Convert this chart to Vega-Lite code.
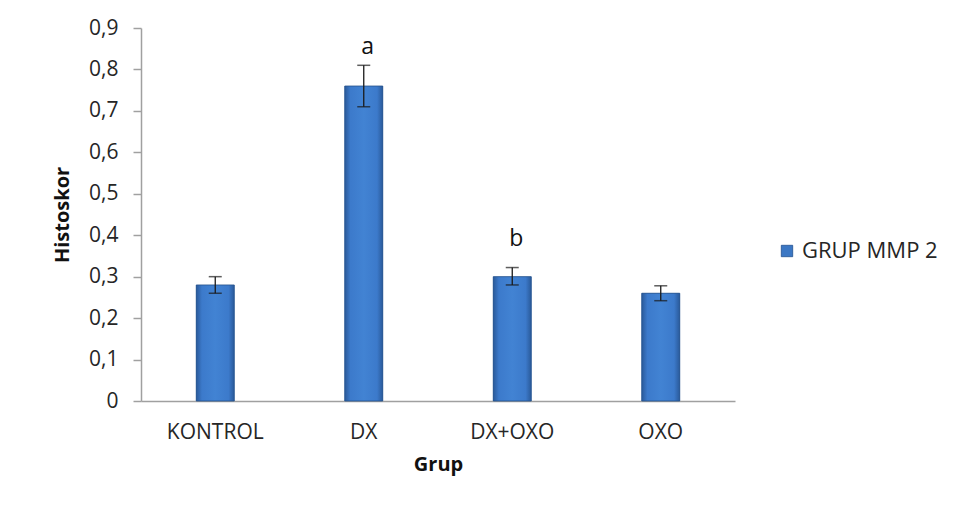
{
  "$schema": "https://vega.github.io/schema/vega-lite/v6.json",
  "width": 594,
  "height": 373,
  "autosize": {"type": "none"},
  "padding": {"left": 141, "top": 28, "right": 230, "bottom": 107},
  "background": "white",
  "data": {
    "values": [
      {"grup": "KONTROL", "series": "GRUP MMP 2", "mean": 0.28, "low": 0.26, "high": 0.30, "sig": ""},
      {"grup": "DX", "series": "GRUP MMP 2", "mean": 0.76, "low": 0.71, "high": 0.81, "sig": "a"},
      {"grup": "DX+OXO", "series": "GRUP MMP 2", "mean": 0.30, "low": 0.28, "high": 0.322, "sig": "b"},
      {"grup": "OXO", "series": "GRUP MMP 2", "mean": 0.26, "low": 0.242, "high": 0.278, "sig": ""}
    ]
  },
  "encoding": {
    "x": {
      "field": "grup",
      "type": "nominal",
      "sort": null,
      "scale": {"paddingInner": 0, "paddingOuter": 0},
      "axis": {
        "title": "Grup",
        "labelAngle": 0,
        "ticks": false,
        "labelPadding": 20,
        "titlePadding": 12,
        "domainColor": "#a0a0a0",
        "domainWidth": 1.5
      }
    }
  },
  "layer": [
    {
      "mark": {"type": "bar", "size": 38},
      "encoding": {
        "y": {
          "field": "mean",
          "type": "quantitative",
          "scale": {"domain": [0, 0.9]},
          "axis": {
            "title": "Histoskor",
            "values": [0, 0.1, 0.2, 0.3, 0.4, 0.5, 0.6, 0.7, 0.8, 0.9],
            "labelExpr": "datum.value == 0 ? '0' : replace(format(datum.value, '.1f'), '.', ',')",
            "grid": false,
            "tickSize": 8,
            "tickColor": "#a0a0a0",
            "tickWidth": 1.5,
            "labelPadding": 15,
            "titlePadding": 16,
            "domainColor": "#a0a0a0",
            "domainWidth": 1.5
          }
        },
        "color": {
          "field": "series",
          "type": "nominal",
          "scale": {"range": ["#3b77c4"]},
          "legend": {
            "title": null,
            "orient": "none",
            "legendX": 635,
            "legendY": 212,
            "symbolType": "square",
            "symbolSize": 130,
            "symbolStrokeWidth": 0.8,
            "symbolStrokeColor": "#1f4f8f",
            "labelFontSize": 22,
            "labelFont": "Open Sans",
            "labelColor": "#262626",
            "labelOffset": 4
          }
        }
      }
    },
    {
      "mark": {
        "type": "bar",
        "size": 38,
        "stroke": "#24508c",
        "strokeWidth": 0.8,
        "color": {
          "gradient": "linear",
          "x1": 0, "y1": 0, "x2": 1, "y2": 0,
          "stops": [
            {"offset": 0, "color": "#2a5a9a"},
            {"offset": 0.15, "color": "#3c7acb"},
            {"offset": 0.5, "color": "#4283d3"},
            {"offset": 0.85, "color": "#3c7acb"},
            {"offset": 1, "color": "#2a5a9a"}
          ]
        }
      },
      "encoding": {
        "y": {"field": "mean", "type": "quantitative"}
      }
    },
    {
      "mark": {"type": "rule", "color": "#1a1a1a", "strokeWidth": 1.3},
      "encoding": {
        "y": {"field": "low", "type": "quantitative"},
        "y2": {"field": "high"}
      }
    },
    {
      "mark": {"type": "tick", "color": "#1a1a1a", "size": 13, "thickness": 1.5, "orient": "horizontal"},
      "encoding": {
        "y": {"field": "low", "type": "quantitative"}
      }
    },
    {
      "mark": {"type": "tick", "color": "#1a1a1a", "size": 13, "thickness": 1.5, "orient": "horizontal"},
      "encoding": {
        "y": {"field": "high", "type": "quantitative"}
      }
    },
    {
      "transform": [{"filter": "datum.sig == 'a'"}],
      "mark": {"type": "text", "fontSize": 23, "font": "Open Sans", "color": "#111111", "baseline": "middle", "dy": -18, "dx": 4},
      "encoding": {
        "y": {"field": "high", "type": "quantitative"},
        "text": {"field": "sig"}
      }
    },
    {
      "transform": [{"filter": "datum.sig == 'b'"}],
      "mark": {"type": "text", "fontSize": 23, "font": "Open Sans", "color": "#111111", "baseline": "middle", "dy": -29, "dx": 4},
      "encoding": {
        "y": {"field": "high", "type": "quantitative"},
        "text": {"field": "sig"}
      }
    }
  ],
  "config": {
    "view": {"stroke": null},
    "font": "Open Sans",
    "axis": {
      "labelFont": "Open Sans",
      "labelFontSize": 21,
      "labelColor": "#262626",
      "titleFont": "Open Sans",
      "titleFontSize": 20,
      "titleFontWeight": "bold",
      "titleColor": "#111111"
    }
  }
}
